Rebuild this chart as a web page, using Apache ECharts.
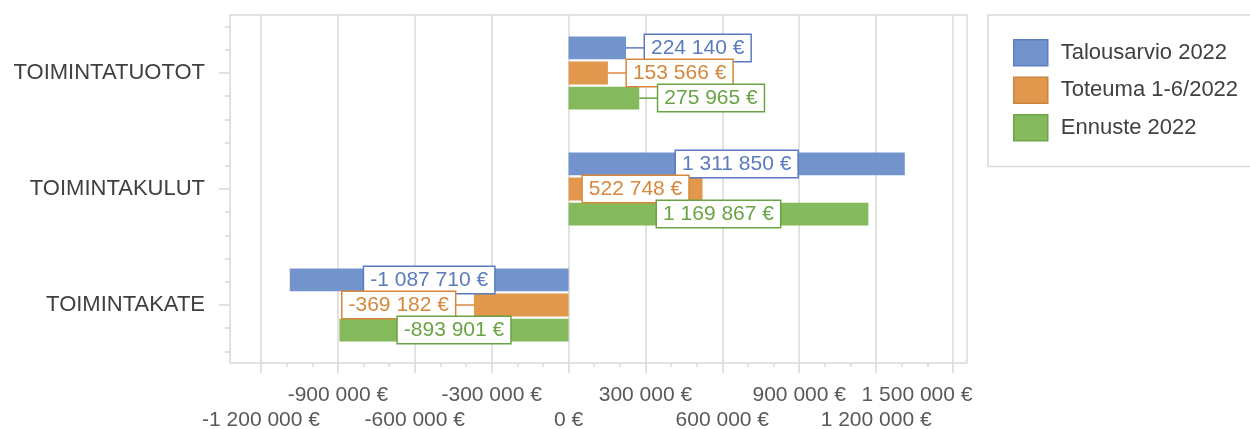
<!DOCTYPE html>
<html>
<head>
<meta charset="utf-8">
<script src="https://cdn.jsdelivr.net/npm/echarts@6/dist/echarts.min.js"></script>
<style>
html, body { margin: 0; padding: 0; background: #fff; }
#chart { width: 1250px; height: 429px; }
</style>
</head>
<body>
<div id="chart"></div>
<script>
// data
const categories = ['TOIMINTATUOTOT', 'TOIMINTAKULUT', 'TOIMINTAKATE']
const seriesNames = ['Talousarvio 2022', 'Toteuma 1-6/2022', 'Ennuste 2022']
const talousarvio = [224140, 1311850, -1087710]
const toteuma = [153566, 522748, -369182]
const ennuste = [275965, 1169867, -893901]
const axisMin = -1200000
const axisMax = 1500000
const axisStep = 300000

const font = 'Liberation Sans, Arial, sans-serif'
const gridColor = '#d9d9d9'

// thousands with spaces, euro sign after
function euro(v) {
  const s = Math.abs(v).toString().replace(/\B(?=(\d{3})+(?!\d))/g, ' ')
  return (v < 0 ? '-' : '') + s + ' €'
}

// where each value label sits (r = outside right, l = outside left, c = inside)
const labelPlace = [
  ['r', 'c', 'c'],
  ['r', 'c', 'l'],
  ['r', 'c', 'c'],
]

function makeSeries(idx, values, color, dark) {
  const boxStyle = {
    fontFamily: font,
    fontSize: 21,
    color: dark,
    backgroundColor: '#fff',
    borderColor: dark,
    borderWidth: 1.5,
    padding: [3, 6, 2, 6],
  }
  // leader line drawn as a thin token next to the box
  const lineStyle = { width: 19, height: 1.5, backgroundColor: dark }
  return {
    name: seriesNames[idx],
    type: 'bar',
    xAxisIndex: 0,
    yAxisIndex: 0,
    barGap: '10%',
    barCategoryGap: '37%',
    itemStyle: { color: color },
    label: {
      show: true,
      position: 'inside',
      distance: 0,
      formatter: p => {
        const where = labelPlace[idx][p.dataIndex]
        const box = '{box|' + euro(p.value) + '}'
        if (where === 'r') return '{line|}' + box
        if (where === 'l') return box + '{line|}'
        return box
      },
      rich: { box: boxStyle, line: lineStyle },
    },
    data: values.map((v, i) => {
      const where = labelPlace[idx][i]
      if (where === 'c') return v
      return { value: v, label: { position: where === 'r' ? 'right' : 'left' } }
    }),
  }
}

const chart = echarts.init(document.getElementById('chart'))

const option = {
  animation: false,
  backgroundColor: '#fff',
  grid: [
    // plot area for the bars
    { left: 261, top: 15, width: 692, height: 348, outerBoundsMode: 'none' },
    // outer frame, like excel plot area
    { left: 230, top: 15, width: 737, height: 348, outerBoundsMode: 'none', show: true, borderColor: gridColor, borderWidth: 1.5, backgroundColor: 'transparent' },
  ],
  legend: {
    orient: 'vertical',
    left: 988,
    top: 15,
    padding: [24, 80, 25, 25],
    borderColor: gridColor,
    borderWidth: 1.5,
    itemWidth: 34,
    itemHeight: 26,
    itemGap: 10,
    icon: 'rect',
    textStyle: { fontFamily: font, fontSize: 22, color: '#404040', padding: [0, 0, 0, 8] },
    data: [
      { name: seriesNames[0], itemStyle: { borderColor: '#5d7fbd', borderWidth: 1.5 } },
      { name: seriesNames[1], itemStyle: { borderColor: '#c98540', borderWidth: 1.5 } },
      { name: seriesNames[2], itemStyle: { borderColor: '#6fa34a', borderWidth: 1.5 } },
    ],
  },
  xAxis: [
    {
      // upper row of labels
      type: 'value',
      gridIndex: 0,
      position: 'bottom',
      min: axisMin,
      max: axisMax,
      interval: axisStep,
      axisLine: { show: false, onZero: false },
      axisTick: { show: true, length: 10, lineStyle: { color: gridColor, width: 1.5 } },
      minorTick: { show: true, splitNumber: 3, length: 4, lineStyle: { color: gridColor, width: 1.5 } },
      splitLine: { show: true, lineStyle: { color: gridColor, width: 1.5 } },
      axisLabel: {
        margin: 22,
        fontFamily: font,
        fontSize: 21,
        color: '#595959',
        formatter: v => {
          if (Math.round(v / axisStep) % 2 === 0) return ''
          if (v === axisMax) return '{last|' + euro(v) + '}'
          return euro(v)
        },
        rich: {
          last: { fontFamily: font, fontSize: 21, color: '#595959', padding: [0, 72, 0, 0] },
        },
      },
    },
    {
      // lower row of labels
      type: 'value',
      gridIndex: 0,
      position: 'bottom',
      min: axisMin,
      max: axisMax,
      interval: axisStep,
      axisLine: { show: false, onZero: false },
      axisTick: { show: false },
      splitLine: { show: false },
      axisLabel: {
        margin: 47,
        fontFamily: font,
        fontSize: 21,
        color: '#595959',
        formatter: v => (Math.round(v / axisStep) % 2 === 0 ? euro(v) : ''),
      },
    },
    { type: 'value', gridIndex: 1, show: false, min: 0, max: 1 },
  ],
  yAxis: [
    {
      type: 'category',
      gridIndex: 0,
      position: 'left',
      data: categories,
      inverse: true,
      offset: 31,
      axisLine: { show: false, onZero: false },
      axisTick: { show: true, alignWithLabel: true, length: 11, lineStyle: { color: gridColor, width: 1.5 } },
      axisLabel: { margin: 25, fontFamily: font, fontSize: 22, color: '#404040' },
    },
    {
      // small ticks between the categories
      type: 'category',
      gridIndex: 1,
      position: 'left',
      data: new Array(15).fill(''),
      axisLine: { show: false, onZero: false },
      axisTick: { show: true, alignWithLabel: true, length: 5, lineStyle: { color: gridColor, width: 1.5 } },
      axisLabel: { show: false },
    },
  ],
  series: [
    makeSeries(0, talousarvio, '#7293cb', '#5b7bbf'),
    makeSeries(1, toteuma, '#e1974c', '#d7873c'),
    makeSeries(2, ennuste, '#84ba5b', '#69a444'),
  ],
}

chart.setOption(option)
</script>
</body>
</html>
